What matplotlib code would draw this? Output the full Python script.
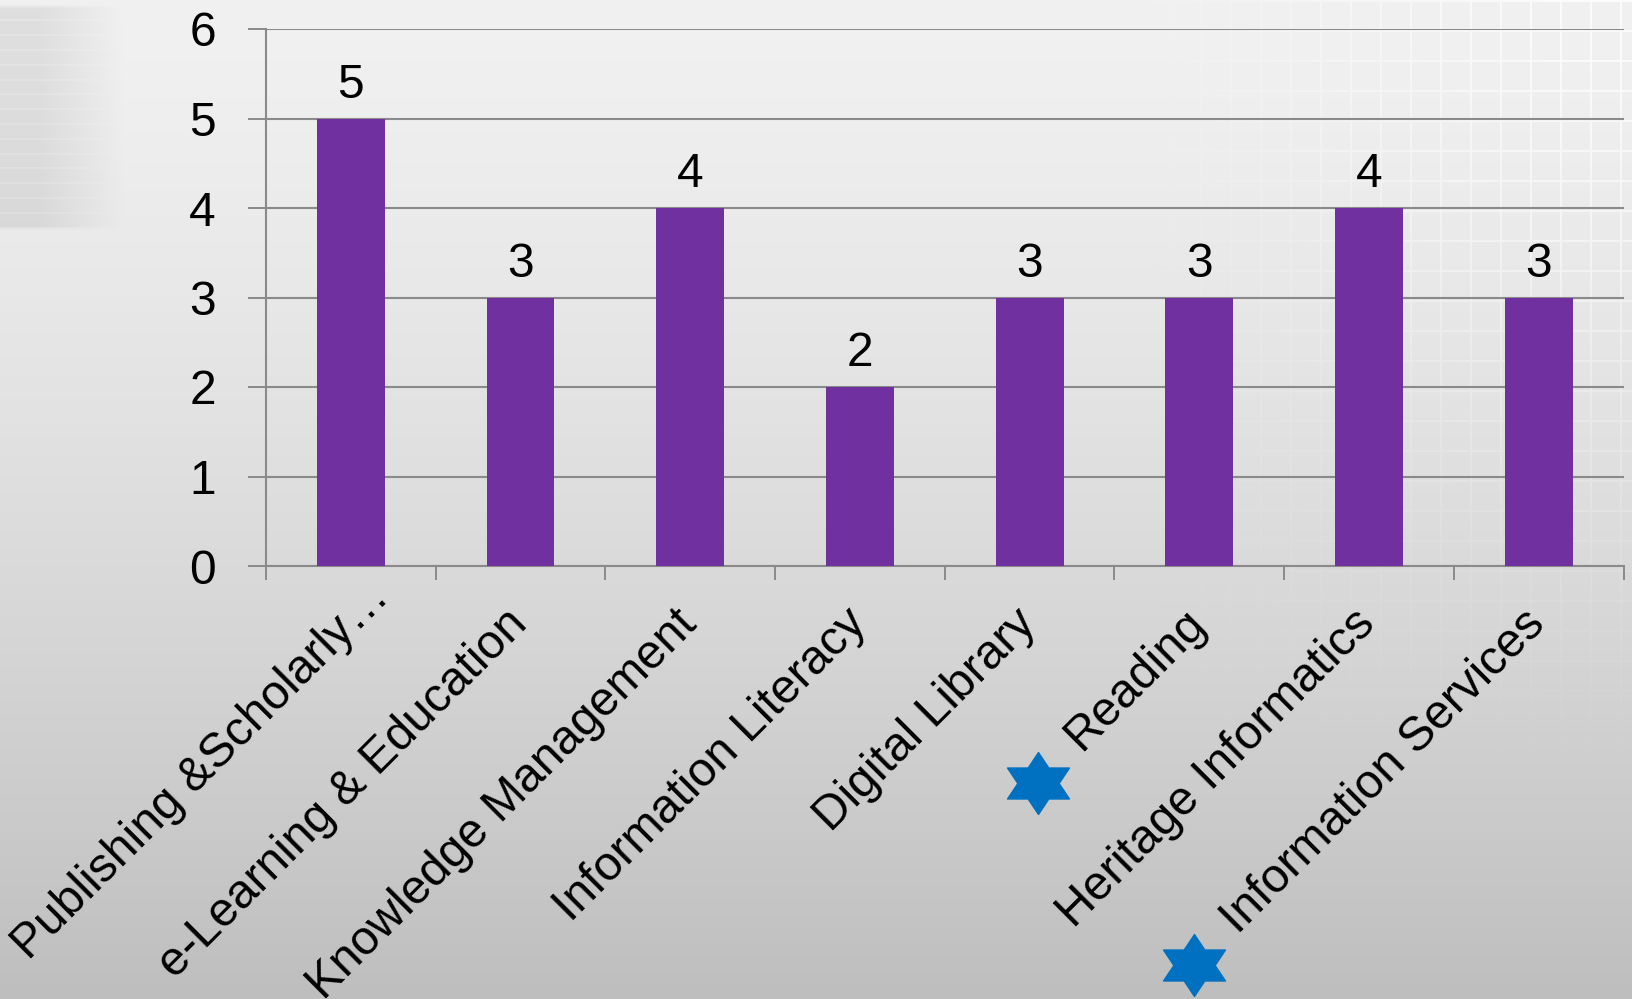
import numpy as np
import matplotlib
matplotlib.use("Agg")
import matplotlib.pyplot as plt
from matplotlib.path import Path
from matplotlib.transforms import ScaledTranslation

# ---- data -------------------------------------------------------------
categories = ["Publishing &Scholarly…", "e-Learning & Education",
              "Knowledge Management", "Information Literacy",
              "Digital Library", "Reading", "Heritage Informatics",
              "Information Services"]
counts = [5, 3, 4, 2, 3, 3, 4, 3]
y_ticks = [0, 1, 2, 3, 4, 5, 6]
starred = ["Reading", "Information Services"]

# ---- figure -----------------------------------------------------------
W, H, DPI = 1633, 999, 100
plt.rcParams['font.family'] = ['Liberation Sans', 'DejaVu Sans']
FS = 34.5
BAR = '#7030A0'
GRID = '#8a8a8a'
STAR = '#0070C0'

fig = plt.figure(figsize=(W / DPI, H / DPI), dpi=DPI)

# soft grey slide background
bg = fig.add_axes([0, 0, 1, 1], zorder=-10)
bg.axis('off')
yy, xx = np.mgrid[0:H, 0:W].astype(float)
img = 0.945 - 0.2 * (yy / H) ** 1.4

# faded panel at the upper left
panel = np.clip((125 - xx) / 85, 0, 1) * np.clip((yy - 4) / 4, 0, 1) * np.clip((230 - yy) / 4, 0, 1)
stripes = (np.mod(yy - 4, 14.8) < 2).astype(float)
img -= 0.07 * panel * (1 - 0.3 * stripes)

# faint white grid on the right side
fade_x = np.clip((xx - 1150) / 400, 0, 1)
fade_y = np.clip((760 - yy) / 500, 0, 1)
lines = ((np.mod(xx, 30) < 2) | (np.mod(yy, 30) < 2)).astype(float)
img += 0.04 * lines * fade_x * fade_y

img = np.clip(img, 0, 1)
bg.imshow(np.dstack([img] * 3), extent=[0, W, H, 0], aspect='auto',
          interpolation='bilinear')
bg.set_xlim(0, W)
bg.set_ylim(H, 0)

# ---- chart ------------------------------------------------------------
left, right, top, base = 266, 1623.6, 29, 566
ax = fig.add_axes([left / W, 1 - base / H, (right - left) / W, (base - top) / H])
ax.patch.set_alpha(0)

x = np.arange(len(categories))
ax.bar(x, counts, width=0.4, color=BAR, zorder=3)
ax.set_xlim(-0.5, len(categories) - 0.5)
ax.set_ylim(y_ticks[0], y_ticks[-1])

ax.set_yticks(y_ticks)
ax.set_yticklabels([str(t) for t in y_ticks], fontsize=FS)
ax.set_xticks(np.arange(-0.5, len(categories), 1.0))
ax.set_xticklabels([])
ax.tick_params(axis='y', length=13, width=1.4, color=GRID, pad=23)
ax.tick_params(axis='x', length=10, width=1.4, color=GRID)
ax.yaxis.grid(True, color=GRID, linewidth=1.5, zorder=1)
ax.set_axisbelow(True)
for side in ('top', 'right'):
    ax.spines[side].set_visible(False)
for side in ('left', 'bottom'):
    ax.spines[side].set_color(GRID)
    ax.spines[side].set_linewidth(1.5)

# value labels above the bars
for i, v in enumerate(counts):
    ax.annotate(str(v), xy=(i, v), xytext=(0, 15), textcoords='offset points',
                ha='center', va='baseline', fontsize=FS)

# slanted category names (the truncated first one sits a little higher)
for i, name in enumerate(categories):
    off = (29, -24) if name.endswith('…') else (6, -43)
    ax.annotate(name, xy=(i, 0), xytext=off, textcoords='offset points',
                rotation=45, rotation_mode='anchor', ha='right', va='baseline',
                fontsize=FS, annotation_clip=False)

# six-pointed star marker (as wide as it is tall)
ang = np.deg2rad(90 + 30 * np.arange(12))
rad = np.where(np.arange(12) % 2 == 0, 1.0, 1 / np.sqrt(3))
verts = np.column_stack([rad * np.cos(ang) / np.cos(np.pi / 6), rad * np.sin(ang)])
verts = np.vstack([verts, verts[:1]])
codes = [Path.MOVETO] + [Path.LINETO] * 11 + [Path.CLOSEPOLY]
star = Path(verts, codes)

star_offsets = {"Reading": (-116, -156), "Information Services": (-248, -287)}
for name in starred:
    i = categories.index(name)
    dx, dy = star_offsets[name]
    tr = ax.transData + ScaledTranslation(dx / 72, dy / 72, fig.dpi_scale_trans)
    ax.plot([i], [0], marker=star, markersize=44.6, color=STAR, linestyle='none',
            transform=tr, clip_on=False, zorder=5)

fig.savefig('out.png', dpi=DPI)
